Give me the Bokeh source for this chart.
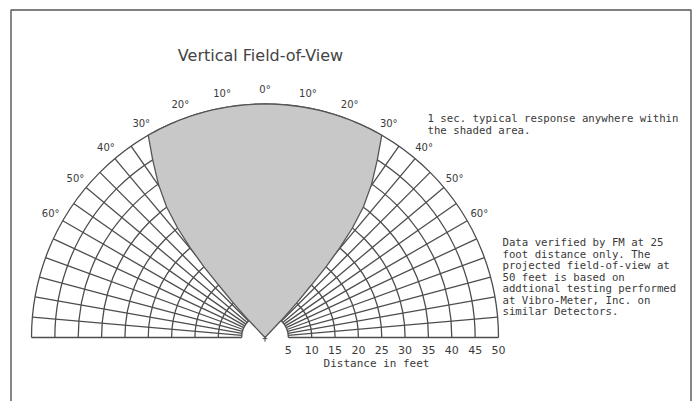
import numpy as np
from bokeh.plotting import figure
from bokeh.models import Range1d
from bokeh.core.properties import value
from bokeh.embed import file_html
from bokeh.resources import INLINE

# ---------------- data ----------------
ring_distances_ft = [5, 10, 15, 20, 25, 30, 35, 40, 45, 50]
grid_angles_deg = [-90, -85, -80, -75, -70, -65, -60, -55, -50, -45, -40, -35, -30,
                   -25, -20, -15, -10, -5, 0, 5, 10, 15, 20, 25, 30, 35, 40, 45,
                   50, 55, 60, 65, 70, 75, 80, 85, 90]
angle_label_deg = [-60, -50, -40, -30, -20, -10, 0, 10, 20, 30, 40, 50, 60]
angle_labels = ["60°", "50°", "40°", "30°", "20°", "10°", "0°",
                "10°", "20°", "30°", "40°", "50°", "60°"]
distance_tick_ft = [5, 10, 15, 20, 25, 30, 35, 40, 45, 50]
distance_tick_labels = ["5", "10", "15", "20", "25", "30", "35", "40", "45", "50"]
# half-angle (deg from vertical) of the field-of-view boundary vs distance
fov_distance_ft = [0, 5, 10, 15, 20, 25, 30, 35, 40, 45, 50]
fov_half_angle_deg = [45, 43.5, 42.5, 41.5, 40.8, 39.8, 38.6, 37.0, 34.8, 32.3, 30.0]

title_text = "Vertical Field-of-View"
note1_lines = ["1 sec. typical response anywhere within",
               "the shaded area."]
note2_lines = ["Data verified by FM at 25",
               "foot distance only.  The",
               "projected field-of-view at",
               "50 feet is based on",
               "addtional testing performed",
               "at Vibro-Meter, Inc. on",
               "similar Detectors."]
axis_title = "Distance in feet"

# ---------------- layout ----------------
S = 4.67             # pixels per foot
W, H = 700, 401
CX, CY = 264.5, 337  # canvas pixel of the detector position

def pos(ix, iy):
    """image pixel -> data coordinates (layout helper)"""
    return ((ix - CX) / S, (CY - iy) / S)

p = figure(width=W, height=H, output_backend="svg", toolbar_location=None,
           x_range=Range1d(-CX / S, (W - CX) / S),
           y_range=Range1d(-(H - CY) / S, CY / S),
           x_axis_location=None, y_axis_location=None,
           min_border=0, min_border_left=0, min_border_right=0,
           min_border_top=0, min_border_bottom=0)
p.grid.visible = False
p.outline_line_color = None
p.background_fill_color = "white"
p.border_fill_color = "white"

GRID = "#4d4d4d"
TXT = "#3a3a3a"
FONT = value("DejaVu Sans")
MONO = value("DejaVu Sans Mono")

# frame border (left, top, right) - open at the bottom
bl, bt = pos(10.5, 9.5)
br, bb = pos(690.5, 410)
p.line(x=[bl, bl, br, br], y=[bb, bt, bt, bb], line_color="#555555", line_width=1.4)

# polar grid: rings
p.arc(x=0, y=0, radius=ring_distances_ft, start_angle=0, end_angle=np.pi,
      line_color=GRID, line_width=1.3)
# polar grid: radial lines
a = np.radians(grid_angles_deg)
r0, r1 = min(ring_distances_ft), max(ring_distances_ft)
p.segment(x0=r0 * np.sin(a), y0=r0 * np.cos(a), x1=r1 * np.sin(a), y1=r1 * np.cos(a),
          line_color=GRID, line_width=1.3)

# shaded field of view
d = np.array(fov_distance_ft, dtype=float)
h = np.radians(fov_half_angle_deg)
left_x, left_y = -d * np.sin(h), d * np.cos(h)
arc_a = np.linspace(-h[-1], h[-1], 61)
top_x, top_y = d[-1] * np.sin(arc_a), d[-1] * np.cos(arc_a)
right_x, right_y = (d * np.sin(h))[::-1], (d * np.cos(h))[::-1]
px_ = np.concatenate([left_x, top_x, right_x])
py_ = np.concatenate([left_y, top_y, right_y])
p.patch(px_, py_, fill_color="#c8c8c8", line_color="#555555", line_width=1.3)

# small mark at detector position
p.segment(x0=[0, -0.5], y0=[0, -0.25], x1=[0, 0.5], y1=[-0.9, -0.25],
          line_color=GRID, line_width=1.0)

# angle labels
la = np.radians(angle_label_deg)
lr = 53.0
p.text(x=lr * np.sin(la), y=lr * np.cos(la), text=angle_labels,
       text_font=FONT, text_font_size="10px", text_color=TXT,
       text_align="center", text_baseline="middle")

# distance tick labels
p.text(x=distance_tick_ft, y=[pos(0, 349)[1]] * len(distance_tick_ft),
       text=distance_tick_labels, text_font=FONT, text_font_size="11px",
       text_color=TXT, text_align="center", text_baseline="middle")
tx, ty = pos(376, 363)
p.text(x=[tx], y=[ty], text=[axis_title], text_font=MONO, text_font_size="11px",
       text_color=TXT, text_align="center", text_baseline="middle")

# title
tx, ty = pos(260, 55)
p.text(x=[tx], y=[ty], text=[title_text], text_font=FONT, text_font_size="16px",
       text_color="#444444", text_align="center", text_baseline="middle")

# notes
n1 = [pos(427, 118 + 12 * i) for i in range(len(note1_lines))]
p.text(x=[q[0] for q in n1], y=[q[1] for q in n1], text=note1_lines, text_font=MONO,
       text_font_size="10.7px", text_color=TXT, text_align="left", text_baseline="middle")
n2 = [pos(502, 242 + 11.5 * i) for i in range(len(note2_lines))]
p.text(x=[q[0] for q in n2], y=[q[1] for q in n2], text=note2_lines, text_font=MONO,
       text_font_size="10.7px", text_color=TXT, text_align="left", text_baseline="middle")

open("out.html", "w").write(file_html(p, INLINE))
